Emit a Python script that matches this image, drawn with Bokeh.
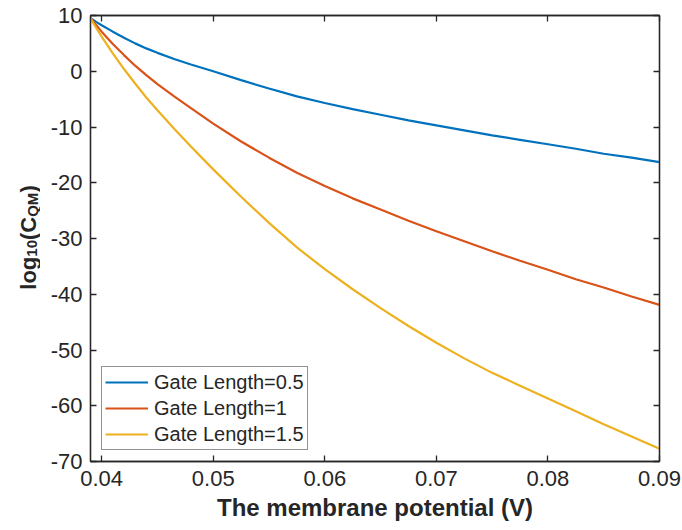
import math
from bokeh.plotting import figure
from bokeh.layouts import row
from bokeh.models import Range1d, LinearAxis, FixedTicker, Legend
from bokeh.core.properties import value
from bokeh.embed import file_html
from bokeh.resources import INLINE

# ---- data ----
potential = [0.039, 0.0395, 0.040, 0.041, 0.042, 0.043, 0.044, 0.045, 0.0465,
             0.048, 0.050, 0.0525, 0.055, 0.0575, 0.060, 0.0625, 0.065, 0.0675,
             0.070, 0.0725, 0.075, 0.0775, 0.080, 0.0825, 0.085, 0.0875, 0.090]
gate_05 = [9.5, 8.85, 8.25, 7.1, 6.0, 5.0, 4.1, 3.3, 2.2, 1.2, 0.0, -1.6, -3.1,
           -4.5, -5.7, -6.8, -7.8, -8.8, -9.7, -10.6, -11.5, -12.3, -13.1,
           -13.9, -14.8, -15.5, -16.3]
gate_10 = [9.5, 8.3, 7.1, 4.9, 2.9, 1.0, -0.7, -2.3, -4.5, -6.6, -9.4, -12.6,
           -15.5, -18.2, -20.6, -22.8, -24.8, -26.8, -28.7, -30.5, -32.3, -34.0,
           -35.6, -37.3, -38.8, -40.4, -41.9]
gate_15 = [9.5, 7.8, 6.2, 3.2, 0.4, -2.2, -4.7, -7.0, -10.3, -13.5, -17.6,
           -22.5, -27.2, -31.6, -35.5, -39.1, -42.5, -45.7, -48.7, -51.5, -54.1,
           -56.4, -58.7, -61.0, -63.3, -65.5, -67.7]
series_names = ["Gate Length=0.5", "Gate Length=1", "Gate Length=1.5"]
series_colors = ["#0072BD", "#D95319", "#EDB120"]

x_ticks = [0.04, 0.05, 0.06, 0.07, 0.08, 0.09]
x_tick_labels = ["0.04", "0.05", "0.06", "0.07", "0.08", "0.09"]
y_ticks = [-70, -60, -50, -40, -30, -20, -10, 0, 10]
y_tick_labels = ["-70", "-60", "-50", "-40", "-30", "-20", "-10", "0", "10"]

x_label = "The membrane potential (V)"
y_label_parts = ["log", "10", "(C", "QM", ")"]   # log10(C_QM) with subscripts

FONT = "Liberation Sans"
AX = "#262626"
W, H = 682, 530
LW = 40
TOP, BOTTOM = 15, 69
FRAME_H = H - TOP - BOTTOM

p = figure(width=W - LW, height=H, output_backend="svg", toolbar_location=None,
           x_range=Range1d(0.039, 0.09), y_range=Range1d(-70, 10),
           min_border_left=50, min_border_right=23, min_border_top=TOP,
           min_border_bottom=BOTTOM, background_fill_color="white",
           border_fill_color="white", outline_line_color=AX,
           outline_line_width=1.3)
p.grid.visible = False

items = []
for ys, name, col in zip([gate_05, gate_10, gate_15], series_names, series_colors):
    r = p.line(potential, ys, line_color=col, line_width=2.2)
    items.append((name, [r]))

xax = p.xaxis[0]
yax = p.yaxis[0]
top = LinearAxis()
right = LinearAxis()
p.add_layout(top, "above")
p.add_layout(right, "right")

for ax, ticks, show in [(xax, x_ticks, True), (top, x_ticks, False),
                        (yax, y_ticks, True), (right, y_ticks, False)]:
    ax.ticker = FixedTicker(ticks=ticks)
    ax.major_tick_in = 6
    ax.major_tick_out = 0
    ax.minor_tick_line_color = None
    ax.axis_line_color = AX
    ax.axis_line_width = 1.3
    ax.major_tick_line_color = AX
    ax.major_tick_line_width = 1.3
    ax.major_label_text_font = FONT
    ax.major_label_text_color = AX
    if show:
        ax.major_label_text_font_size = "22px"
        ax.major_label_standoff = 9
    else:
        ax.major_label_text_font_size = "0px"
        ax.major_label_standoff = 0
        ax.major_label_overrides = {t: "" for t in ticks}

xax.major_label_overrides = {t: s for t, s in zip(x_ticks, x_tick_labels)}
yax.major_label_overrides = {t: s for t, s in zip(y_ticks, y_tick_labels)}
yax.major_label_standoff = 8

xax.axis_label = x_label
xax.axis_label_text_font = FONT
xax.axis_label_text_font_style = "bold"
xax.axis_label_text_font_size = "24px"
xax.axis_label_text_color = AX
xax.axis_label_standoff = 5

legend = Legend(items=items, location="bottom_left")
legend.label_text_font = FONT
legend.label_text_font_size = "20px"
legend.label_text_color = AX
legend.glyph_width = 43
legend.glyph_height = 24
legend.label_height = 24
legend.spacing = 2
legend.padding = 3
legend.margin = 11
legend.label_standoff = 6
legend.border_line_color = AX
legend.border_line_width = 1.3
legend.background_fill_color = "white"
legend.background_fill_alpha = 1
p.add_layout(legend)

# ---- y axis label panel (rotated text with subscripts) ----
# its frame spans the same rows as the main frame; 1 data unit = 1 px
q = figure(width=LW, height=H, output_backend="svg", toolbar_location=None,
           x_range=Range1d(0, LW), y_range=Range1d(0, FRAME_H),
           x_axis_type=None, y_axis_type=None,
           min_border_left=0, min_border_right=0,
           min_border_top=TOP, min_border_bottom=BOTTOM,
           outline_line_color=None,
           background_fill_color="white", border_fill_color="white")
q.grid.visible = False
sizes = [22, 15, 22, 15, 22]
base_x = [28, 31.5, 28, 31.5, 28]
widths = [33.0, 16.7, 23.2, 24.2, 7.3]
pos = (H - BOTTOM - 237) - sum(widths) / 2
for txt, fs, bx, w in zip(y_label_parts, sizes, base_x, widths):
    q.text(x=[bx], y=[pos], text=[txt], angle=math.pi / 2,
           text_font=value(FONT), text_font_style="bold",
           text_font_size=value(f"{fs}px"), text_color=AX,
           text_align="left", text_baseline="alphabetic")
    pos += w

layout = row(q, p, spacing=0)
open("out.html", "w").write(file_html(layout, INLINE))
